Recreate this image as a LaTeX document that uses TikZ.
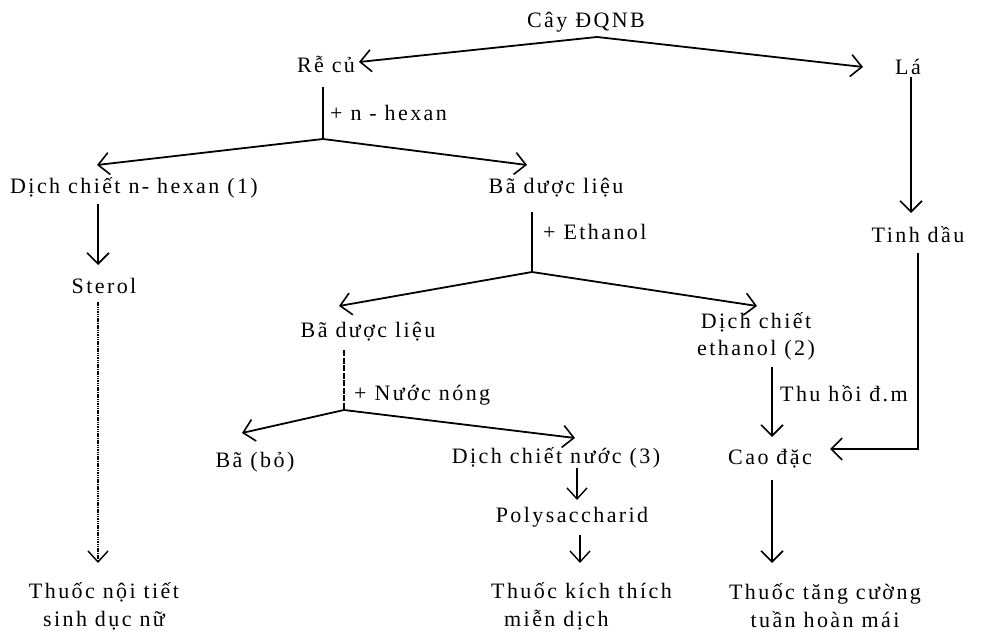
\documentclass[tikz,border=0pt]{standalone}
\usepackage{fontspec}
\setmainfont{Liberation Serif}[LetterSpace=11]
\usetikzlibrary{arrows.meta}

\begin{document}
\begin{tikzpicture}[x=1pt,y=-1pt,
  lbl/.style={inner sep=0pt, font=\fontsize{22}{27}\selectfont},
  twoline/.style={lbl, font=\fontsize{22}{28}\selectfont},
  ln/.style={line width=1.8pt},
  arr/.style={ln, -{Straight Barb[length=11pt,width=22pt,line width=1.6pt]}},
  thinarr/.style={line width=1.3pt, -{Straight Barb[length=11pt,width=20pt,line width=1.4pt]}},
  dotline/.style={thinarr, dash pattern=on 1.5pt off 0.8pt},
  brokenline/.style={line width=1.4pt, dash pattern=on 6pt off 1.5pt}]
\useasboundingbox (0,0) rectangle (988,631);

% ---- labels ----
\node[lbl] (cay) at (586,22) {Cây ĐQNB};
\node[lbl] (re) at (326,64) {Rễ củ};
\node[lbl] (la) at (908,67) {Lá};
\node[lbl,anchor=west] (hexlab) at (330,113) {+ n - hexan};
\node[lbl] (dhex) at (134,188) {Dịch chiết n- hexan (1)};
\node[lbl] (ba1) at (556,188) {Bã dược liệu};
\node[lbl] (sterol) at (104,286) {Sterol};
\node[lbl,anchor=west] (ethlab) at (543,232) {+ Ethanol};
\node[lbl] (tinh) at (918,235) {Tinh dầu};
\node[lbl] (ba2) at (368,332) {Bã dược liệu};
\node[lbl,align=center] (deth) at (756,336) {Dịch chiết\\ethanol (2)};
\node[lbl,anchor=west] (nuoclab) at (354,395) {+ Nước nóng};
\node[lbl,anchor=west] (thulab) at (780,394) {Thu hồi đ.m};
\node[lbl] (babo) at (255,462) {Bã (bỏ)};
\node[lbl] (dnuoc) at (556,458) {Dịch chiết nước (3)};
\node[lbl] (cao) at (770,459) {Cao đặc};
\node[lbl] (poly) at (572,517) {Polysaccharid};
\node[twoline,align=center] (t1) at (104,606) {Thuốc nội tiết\\sinh dục nữ};
\node[twoline,align=left,anchor=west] (t2) at (491,606) {Thuốc kích thích\\\hspace*{13pt}miễn dịch};
\node[twoline,align=center] (t3) at (825,606) {Thuốc tăng cường\\tuần hoàn mái};

% ---- connector ends and branch points ----
\coordinate (apex) at (597,37);
\coordinate (reE) at (359,62);
\coordinate (laW) at (863,67);
\coordinate (reS) at (323,87);
\coordinate (s1) at (323,139);
\coordinate (dhexN) at (97,165);
\coordinate (ba1N) at (527,165);
\coordinate (dhexS) at (98,204);
\coordinate (sterolN) at (98,265);
\coordinate (sterolS) at (98,302);
\coordinate (t1N) at (98,563);
\coordinate (ba1S) at (532,212);
\coordinate (s2) at (532,272);
\coordinate (ba2N) at (339,306);
\coordinate (dethN) at (757,306);
\coordinate (ba2S) at (344,350);
\coordinate (s3) at (344,410);
\coordinate (baboN) at (242,433);
\coordinate (dnuocN) at (575,438);
\coordinate (dethS) at (772,367);
\coordinate (caoN) at (772,437);
\coordinate (laS) at (911,77);
\coordinate (tinhN) at (911,213);
\coordinate (tinhS) at (918,253);
\coordinate (corner) at (918,449);
\coordinate (caoE) at (830,449);
\coordinate (dnuocS) at (577,468);
\coordinate (polyN) at (577,500);
\coordinate (polyS) at (580,535);
\coordinate (t2N) at (580,563);
\coordinate (caoS) at (772,480);
\coordinate (t3N) at (772,563);

% ---- connectors ----
\draw[arr] (apex) -- (reE);
\draw[arr] (apex) -- (laW);
\draw[ln] (reS) -- (s1);
\draw[arr] (s1) -- (dhexN);
\draw[arr] (s1) -- (ba1N);
\draw[arr] (dhexS) -- (sterolN);
\draw[dotline] (sterolS) -- (t1N);
\draw[ln] (ba1S) -- (s2);
\draw[arr] (s2) -- (ba2N);
\draw[arr] (s2) -- (dethN);
\draw[brokenline] (ba2S) -- (s3);
\draw[arr] (s3) -- (baboN);
\draw[arr] (s3) -- (dnuocN);
\draw[arr] (dethS) -- (caoN);
\draw[arr] (laS) -- (tinhN);
\draw[arr] (tinhS) -- (corner) -- (caoE);
\draw[thinarr] (dnuocS) -- (polyN);
\draw[thinarr] (polyS) -- (t2N);
\draw[arr] (caoS) -- (t3N);
\end{tikzpicture}
\end{document}
